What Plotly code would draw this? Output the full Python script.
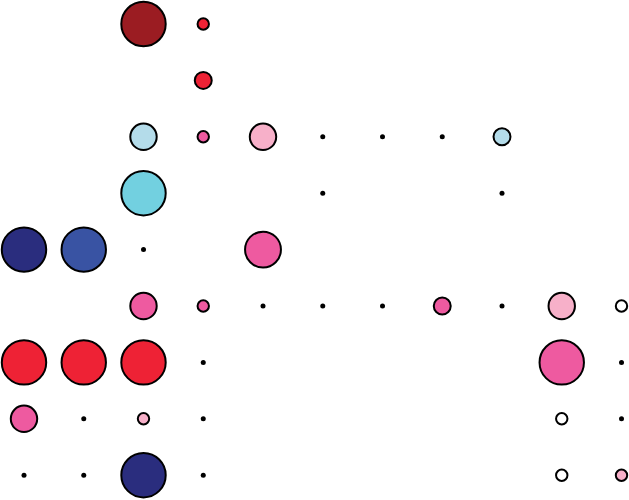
import plotly.graph_objects as go

# Grid categories (hidden axes)
col_labels = [f"C{i+1}" for i in range(11)]
row_labels = [f"R{j+1}" for j in range(9)]

# Data: row index, column index, value, group
rows = [0, 0,
        1,
        2, 2, 2, 2, 2, 2, 2,
        3, 3, 3,
        4, 4, 4, 4,
        5, 5, 5, 5, 5, 5, 5, 5, 5,
        6, 6, 6, 6, 6, 6,
        7, 7, 7, 7, 7, 7,
        8, 8, 8, 8, 8, 8]
cols = [2, 3,
        3,
        2, 3, 4, 5, 6, 7, 8,
        2, 5, 8,
        0, 1, 2, 4,
        2, 3, 4, 5, 6, 7, 8, 9, 10,
        0, 1, 2, 3, 9, 10,
        0, 1, 2, 3, 9, 10,
        0, 1, 2, 3, 9, 10]
values = [12, 1,
          2,
          4.5, 1, 4.5, 0, 0, 0, 2,
          12, 0, 0,
          12, 12, 0, 8,
          4.5, 1, 0, 0, 0, 2, 0, 4.5, 1,
          12, 12, 12, 0, 12, 0,
          4.5, 0, 1, 0, 1, 0,
          0, 0, 12, 0, 1, 1]
groups = ["darkred", "red",
          "red",
          "lightblue", "pink", "lightpink", "", "", "", "lightblue",
          "cyan", "", "",
          "darkblue", "blue", "", "pink",
          "pink", "pink", "", "", "", "pink", "", "lightpink", "white",
          "red", "red", "red", "", "pink", "",
          "pink", "", "lightpink", "", "white", "",
          "", "", "darkblue", "", "white", "lightpink"]

palette = {
    "darkred": "#9b1c22",
    "red": "#ee2235",
    "lightblue": "#b4dcea",
    "pink": "#ee5aa0",
    "lightpink": "#f7b0c9",
    "cyan": "#72d0e0",
    "darkblue": "#2a2d7e",
    "blue": "#3953a3",
    "white": "#ffffff",
}

LW = 2.0
UNIT = 6.7  # outer radius in px for value 1

bx, by, bs, bc = [], [], [], []
dx, dy = [], []
for r, c, v, g in zip(rows, cols, values, groups):
    if v > 0:
        bx.append(col_labels[c]); by.append(row_labels[r])
        bs.append(2 * UNIT * v ** 0.5 - LW)
        bc.append(palette[g])
    else:
        dx.append(col_labels[c]); dy.append(row_labels[r])

fig = go.Figure()
fig.add_trace(go.Scatter(
    x=bx, y=by, mode="markers", cliponaxis=False,
    marker=dict(size=bs, color=bc, opacity=1, line=dict(color="black", width=LW)),
    hoverinfo="skip", showlegend=False))
fig.add_trace(go.Scatter(
    x=dx, y=dy, mode="markers", cliponaxis=False,
    marker=dict(size=5, color="black", line=dict(width=0)),
    hoverinfo="skip", showlegend=False))

fig.update_xaxes(categoryorder="array", categoryarray=col_labels,
                 range=[-24 / 59.75, (629 - 24) / 59.75],
                 visible=False, showgrid=False, zeroline=False)
fig.update_yaxes(categoryorder="array", categoryarray=row_labels,
                 range=[(500 - 24) / 56.4, -24 / 56.4],
                 visible=False, showgrid=False, zeroline=False)
fig.update_layout(width=629, height=500, margin=dict(l=0, r=0, t=0, b=0),
                  paper_bgcolor="white", plot_bgcolor="white")
fig.write_html("out.html", config={"displayModeBar": False},
               post_script="document.body.style.margin='0px';document.body.style.overflow='hidden';")
